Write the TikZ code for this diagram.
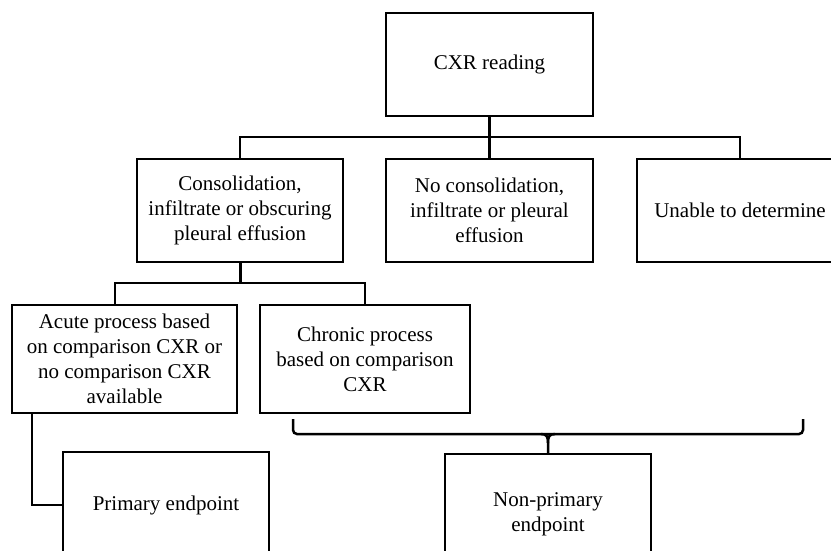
\documentclass[tikz,border=0pt]{standalone}
\usepackage{fontspec}
\setmainfont{Liberation Serif}
\usetikzlibrary{calc}
\tikzset{
  cbox/.style={draw, line width=2pt, align=center, inner sep=0pt,
    font=\fontsize{21}{25}\selectfont},
  link/.style={line width=2pt},
  stem/.style={line width=3pt}
}
\begin{document}
\begin{tikzpicture}[x=1pt,y=-1pt]
\useasboundingbox (0,0) rectangle (831,551);
\clip (0,0) rectangle (831,551);
\node[cbox, minimum width=207pt, minimum height=103pt] (cxr) at (489.5,64.5) {CXR reading};
\node[cbox, minimum width=206pt, minimum height=103pt] (cons) at (240,210.5)
  {Consolidation,\\ infiltrate or obscuring\\ pleural effusion};
\node[cbox, minimum width=207pt, minimum height=103pt] (nocons) at (489.5,210.5)
  {No consolidation,\\ infiltrate or pleural\\ effusion};
\node[cbox, minimum width=206pt, minimum height=103pt] (unable) at (740,210.5) {Unable to determine};
\node[cbox, minimum width=225pt, minimum height=108pt] (acute) at (124.5,359)
  {Acute process based\\ on comparison CXR or\\ no comparison CXR\\ available};
\node[cbox, minimum width=210pt, minimum height=108pt] (chronic) at (365,359)
  {Chronic process\\ based on comparison\\ CXR};
\node[cbox, minimum width=206pt, minimum height=106pt] (primary) at (166,505) {Primary endpoint};
\node[cbox, minimum width=206pt, minimum height=120pt] (nonprim) at (548,514) {Non-primary\\ endpoint};

\coordinate (bar1) at (0,137);
\coordinate (bar2) at (0,283);
\draw[stem] (cxr.south) -- (nocons.north);
\draw[link] (cons.north) -- (cons.north |- bar1) -- (unable.north |- bar1) -- (unable.north);
\draw[stem] (cons.south) -- (cons.south |- bar2);
\draw[link] ([xshift=-9.5pt]acute.north) -- ([xshift=-9.5pt]acute.north |- bar2)
  -- (chronic.north |- bar2) -- (chronic.north);
\draw[link] ([xshift=21pt]acute.south west) |- (primary.west);

\coordinate (bl) at (293,419);
\coordinate (br) at (803,419);
\coordinate (tip) at (548,434);
\draw[link, line width=2.5pt, rounded corners=4pt] (bl) -- (bl |- tip) -- (br |- tip) -- (br);
\draw[link, line width=2.5pt] ($(tip)+(-7,0)$) .. controls ($(tip)+(-1,0)$) and ($(tip)+(0,3)$) .. ($(tip)+(0,9)$)
  -- (nonprim.north);
\draw[link, line width=2.5pt] ($(tip)+(7,0)$) .. controls ($(tip)+(1,0)$) and ($(tip)+(0,3)$) .. ($(tip)+(0,9)$);
\end{tikzpicture}
\end{document}
